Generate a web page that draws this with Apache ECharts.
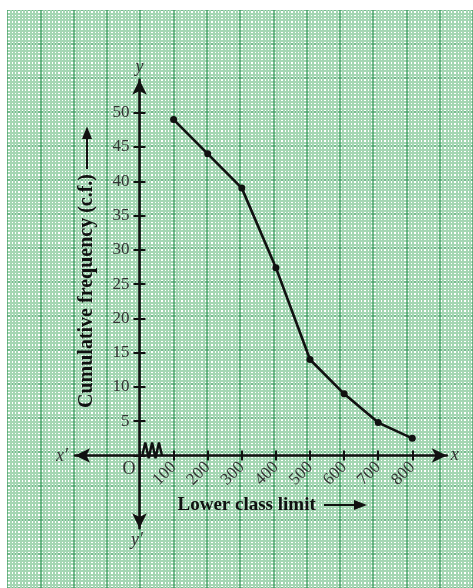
<!DOCTYPE html>
<html>
<head>
<meta charset="utf-8">
<script src="https://cdn.jsdelivr.net/npm/echarts@6/dist/echarts.min.js"></script>
<style>
  html, body { margin: 0; padding: 0; background: #ffffff; }
  body { width: 473px; height: 588px; position: relative; overflow: hidden; }
  #chart { position: absolute; left: 7px; top: 10px; width: 466px; height: 578px; }
</style>
</head>
<body>
<div id="chart"></div>
<script>
// ---------- data ----------
const lowerClassLimits = [100, 200, 300, 400, 500, 600, 700, 800];
const cumulativeFrequency = [49, 44, 39, 27.4, 14, 9, 4.8, 2.5];
const xTickLabels = ['100', '200', '300', '400', '500', '600', '700', '800'];
const yTickLabels = ['5', '10', '15', '20', '25', '30', '35', '40', '45', '50'];
const breakX = [8, 17, 27, 37, 47, 57, 66];
const breakY = [0, 1.9, -0.4, 1.9, -0.4, 1.9, 0];

// ---------- layout (page pixels) ----------
const OX = 7, OY = 10;          // chart div offset in the page
const X0 = 139.5, Y0 = 455.5;   // page position of value 0 on each axis
const SX = 0.341;               // px per x unit
const SY = 6.856;               // px per y unit

function gridFor(xmin, xmax, ymin, ymax) {
  return {
    left: X0 + xmin * SX - OX,
    top: Y0 - ymax * SY - OY,
    width: (xmax - xmin) * SX,
    height: (ymax - ymin) * SY,
    containLabel: false
  };
}

const serif = '"Liberation Serif", "DejaVu Serif", serif';
const ink = '#111111';
const labelColor = '#333333';

// paper grid range
const PX = [-400, 1000], PY = [-20, 65];
// outer axes (arrows) range
const AX = [-189, 901], AY = [-10.6, 54.8];
// inner plotting range
const IX = [0, 800], IY = [0, 50];

const chart = echarts.init(document.getElementById('chart'), null, { renderer: 'canvas' });

const paperAxisCommon = {
  type: 'value',
  axisLine: { show: false }, axisTick: { show: false }, axisLabel: { show: false },
  splitLine: { show: true, lineStyle: { color: '#4aa36a', width: 1.5 } },
  minorTick: { show: false, splitNumber: 10 },
  minorSplitLine: { show: true, lineStyle: { color: '#a4d6b3', width: 2 } },
  z: 0
};

const option = {
  animation: false,
  backgroundColor: 'transparent',
  grid: [
    gridFor(PX[0], PX[1], PY[0], PY[1]),
    gridFor(AX[0], AX[1], AY[0], AY[1]),
    gridFor(IX[0], IX[1], IY[0], IY[1])
  ],
  xAxis: [
    Object.assign({}, paperAxisCommon, { gridIndex: 0, min: PX[0], max: PX[1], interval: 100 }),
    {
      type: 'value', gridIndex: 1, min: AX[0], max: AX[1], z: 3,
      axisLine: { show: true, onZero: true, symbol: ['arrow', 'arrow'], symbolSize: [11, 15],
                  lineStyle: { color: ink, width: 2.6 } },
      axisTick: { show: false }, axisLabel: { show: false }, splitLine: { show: false },
      name: 'x', nameLocation: 'end', nameGap: 4,
      nameTextStyle: { fontFamily: serif, fontStyle: 'italic', fontSize: 18, color: labelColor }
    },
    {
      type: 'value', gridIndex: 2, min: IX[0], max: IX[1], interval: 100, z: 4,
      axisLine: { show: false },
      axisTick: { show: true, inside: false, length: 5, lineStyle: { color: ink, width: 2 } },
      axisLabel: {
        show: true, rotate: 45, margin: 9, fontFamily: serif, fontSize: 17, color: labelColor,
        formatter: function (v) { const i = lowerClassLimits.indexOf(v); return i >= 0 ? xTickLabels[i] : ''; }
      },
      splitLine: { show: false }
    },
    {
      type: 'value', gridIndex: 2, min: IX[0], max: IX[1], interval: 100, z: 4, position: 'bottom',
      axisLine: { show: false },
      axisTick: { show: true, inside: true, length: 5, lineStyle: { color: ink, width: 2 } },
      axisLabel: { show: false }, splitLine: { show: false }
    }
  ],
  yAxis: [
    Object.assign({}, paperAxisCommon, { gridIndex: 0, min: PY[0], max: PY[1], interval: 5 }),
    {
      type: 'value', gridIndex: 1, min: AY[0], max: AY[1], z: 3,
      axisLine: { show: true, onZero: true, symbol: ['arrow', 'arrow'], symbolSize: [11, 15],
                  lineStyle: { color: ink, width: 2.6 } },
      axisTick: { show: false }, axisLabel: { show: false }, splitLine: { show: false },
      name: 'y', nameLocation: 'end', nameGap: 4,
      nameTextStyle: { fontFamily: serif, fontStyle: 'italic', fontSize: 18, color: labelColor }
    },
    {
      type: 'value', gridIndex: 2, min: IY[0], max: IY[1], interval: 5, z: 4, position: 'left',
      axisLine: { show: false },
      axisTick: { show: true, inside: false, length: 6, lineStyle: { color: ink, width: 2 } },
      axisLabel: {
        show: true, margin: 10, fontFamily: serif, fontSize: 17, color: labelColor,
        formatter: function (v) { const i = yTickLabels.indexOf(String(v)); return i >= 0 ? yTickLabels[i] : ''; }
      },
      splitLine: { show: false }
    },
    {
      type: 'value', gridIndex: 2, min: IY[0], max: IY[1], interval: 5, z: 4, position: 'left', offset: 0,
      axisLine: { show: false },
      axisTick: { show: true, inside: true, length: 6, lineStyle: { color: ink, width: 2 } },
      axisLabel: { show: false }, splitLine: { show: false }
    }
  ],
  graphic: [
    // y-axis title
    {
      type: 'text', z: 10, x: 86.5 - OX, y: 291 - OY, rotation: Math.PI / 2,
      style: { text: 'Cumulative frequency (c.f.)', font: 'bold 20px ' + serif, fill: ink,
               textAlign: 'center', textVerticalAlign: 'middle' }
    },
    { type: 'line', z: 10, shape: { x1: 87 - OX, y1: 169 - OY, x2: 87 - OX, y2: 136 - OY },
      style: { stroke: ink, lineWidth: 2 } },
    { type: 'polygon', z: 10, shape: { points: [[87 - OX, 126.5 - OY], [82 - OX, 139 - OY], [92 - OX, 139 - OY]] },
      style: { fill: ink } },
    // x-axis title
    {
      type: 'text', z: 10, x: 177.5 - OX, y: 505 - OY,
      style: { text: 'Lower class limit', font: 'bold 19px ' + serif, fill: ink,
               textAlign: 'left', textVerticalAlign: 'middle' }
    },
    { type: 'line', z: 10, shape: { x1: 324 - OX, y1: 505 - OY, x2: 356 - OX, y2: 505 - OY },
      style: { stroke: ink, lineWidth: 2 } },
    { type: 'polygon', z: 10, shape: { points: [[367 - OX, 505 - OY], [354 - OX, 500 - OY], [354 - OX, 510 - OY]] },
      style: { fill: ink } },
    // axis end labels
    { type: 'text', z: 10, x: 62 - OX, y: 456 - OY,
      style: { text: 'x\u2032', font: 'italic 18px ' + serif, fill: labelColor, textAlign: 'center', textVerticalAlign: 'middle' } },
    { type: 'text', z: 10, x: 137 - OX, y: 540 - OY,
      style: { text: 'y\u2032', font: 'italic 18px ' + serif, fill: labelColor, textAlign: 'center', textVerticalAlign: 'middle' } },
    { type: 'text', z: 10, x: 129 - OX, y: 469 - OY,
      style: { text: 'O', font: '18px ' + serif, fill: labelColor, textAlign: 'center', textVerticalAlign: 'middle' } }
  ],
  series: [
    {
      type: 'line', xAxisIndex: 1, yAxisIndex: 1, z: 6,
      data: breakX.map(function (x, i) { return [x, breakY[i]]; }),
      symbol: 'none', lineStyle: { color: ink, width: 2.4 }, silent: true
    },
    {
      type: 'line', xAxisIndex: 2, yAxisIndex: 2, z: 7,
      data: lowerClassLimits.map(function (x, i) { return [x, cumulativeFrequency[i]]; }),
      symbol: 'circle', symbolSize: 7, clip: false,
      itemStyle: { color: ink },
      lineStyle: { color: ink, width: 2.6 }
    }
  ]
};

chart.setOption(option);
</script>
</body>
</html>
